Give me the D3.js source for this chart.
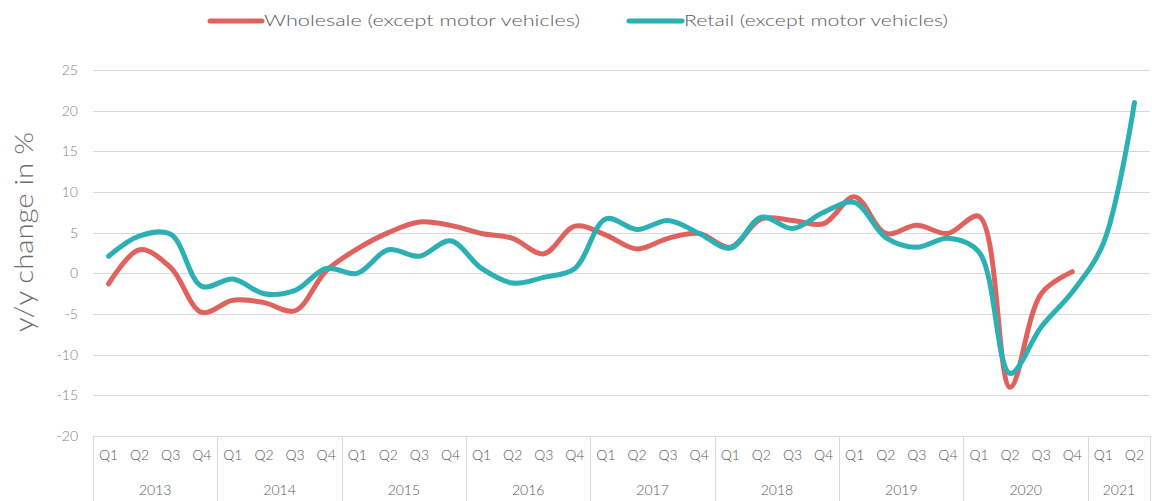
<!DOCTYPE html>
<html>
<head>
<meta charset="utf-8">
<script src="https://cdn.jsdelivr.net/npm/d3@7"></script>
<style>
  html, body { margin: 0; padding: 0; background: #fff; }
  svg { display: block; }
  text { font-family: Lato, "Open Sans", sans-serif; fill: #595959; }
</style>
</head>
<body>
<svg id="chart" width="1152" height="501"></svg>
<script>
// Quarterly y/y change in %, 2013 Q1 – 2021 Q2
const years = ["2013", "2014", "2015", "2016", "2017", "2018", "2019", "2020", "2021"];
const quartersPerYear = [4, 4, 4, 4, 4, 4, 4, 4, 2];
const quarterNames = ["Q1", "Q2", "Q3", "Q4"];

const wholesale = [
  -1.3, 2.9, 0.7, -4.8,
  -3.3, -3.6, -4.6, 0.3,
  3.0, 5.0, 6.3, 5.9,
  4.9, 4.3, 2.4, 5.8,
  4.7, 3.0, 4.3, 4.9,
  3.2, 6.7, 6.5, 6.1,
  9.4, 4.9, 5.9, 4.9,
  7.0, -14.0, -2.5, 0.2
];
const retail = [
  2.1, 4.6, 4.8, -1.6,
  -0.7, -2.5, -2.1, 0.6,
  0.0, 2.9, 2.1, 4.0,
  0.6, -1.2, -0.5, 0.6,
  6.7, 5.4, 6.5, 4.9,
  3.1, 6.9, 5.5, 7.5,
  8.7, 4.4, 3.2, 4.3,
  2.6, -12.3, -6.6, -2.3,
  3.7, 21.0
];
const yTicks = [-20, -15, -10, -5, 0, 5, 10, 15, 20, 25];

const seriesNames = ["Wholesale (except motor vehicles)", "Retail (except motor vehicles)"];
const seriesColors = ["#e0625f", "#2bb0b4"];

// Build the quarter keys (e.g. "2013-Q1")
const quarterKeys = [];
years.forEach((yr, i) => {
  for (let q = 0; q < quartersPerYear[i]; q++) quarterKeys.push(yr + "-" + quarterNames[q]);
});

const svg = d3.select("#chart");
const plotLeft = 93, plotRight = 1150, plotTop = 70, plotBottom = 436;

const x = d3.scaleBand().domain(quarterKeys).range([plotLeft, plotRight]).padding(0);
const y = d3.scaleLinear().domain([-20, 25]).range([plotBottom, plotTop]);
const cx = k => x(k) + x.bandwidth() / 2;

// Horizontal gridlines
svg.append("g").selectAll("line").data(yTicks).join("line")
  .attr("x1", plotLeft).attr("x2", plotRight)
  .attr("y1", d => Math.round(y(d)) + 0.5).attr("y2", d => Math.round(y(d)) + 0.5)
  .attr("stroke", "#d9d9d9").attr("stroke-width", 1);

// Y tick labels
svg.append("g").selectAll("text").data(yTicks).join("text")
  .attr("x", 78).attr("y", d => y(d))
  .attr("dy", "0.35em")
  .attr("text-anchor", "end")
  .attr("font-size", 14)
  .attr("font-weight", 300)
  .style("fill", "#7f7f7f")
  .text(d => d);

// Y axis title
svg.append("text")
  .attr("transform", "translate(33,232) rotate(-90)")
  .attr("text-anchor", "middle")
  .attr("font-size", 25)
  .attr("font-weight", 300)
  .attr("textLength", 200)
  .attr("lengthAdjust", "spacingAndGlyphs")
  .style("fill", "#6b6b6b")
  .text("y/y change in %");

// Two-level category axis: quarter labels, year labels, separators
const axis = svg.append("g");
axis.selectAll("text.q").data(quarterKeys).join("text")
  .attr("class", "q")
  .attr("x", d => cx(d)).attr("y", 455)
  .attr("dy", "0.35em")
  .attr("text-anchor", "middle")
  .attr("font-size", 14)
  .attr("font-weight", 300)
  .style("fill", "#595959")
  .text(d => d.split("-")[1]);

let idx = 0;
const yearSpans = years.map((yr, i) => {
  const first = quarterKeys[idx];
  const last = quarterKeys[idx + quartersPerYear[i] - 1];
  idx += quartersPerYear[i];
  return { yr, x0: x(first), x1: x(last) + x.bandwidth() };
});

axis.selectAll("text.yr").data(yearSpans).join("text")
  .attr("class", "yr")
  .attr("x", d => (d.x0 + d.x1) / 2).attr("y", 490)
  .attr("dy", "0.35em")
  .attr("text-anchor", "middle")
  .attr("font-size", 14)
  .attr("font-weight", 300)
  .style("fill", "#595959")
  .text(d => d.yr);

const seps = [yearSpans[0].x0].concat(yearSpans.map(d => d.x1));
axis.selectAll("line.sep").data(seps).join("line")
  .attr("class", "sep")
  .attr("x1", d => Math.round(d) + 0.5).attr("x2", d => Math.round(d) + 0.5)
  .attr("y1", plotBottom).attr("y2", 501)
  .attr("stroke", "#d9d9d9").attr("stroke-width", 1);

// Series lines
const line = d3.line()
  .x((d, i) => cx(quarterKeys[i]))
  .y(d => y(d))
  .curve(d3.curveCatmullRom.alpha(0.5));

[wholesale, retail].forEach((vals, i) => {
  svg.append("path")
    .datum(vals)
    .attr("d", line)
    .attr("fill", "none")
    .attr("stroke", seriesColors[i])
    .attr("stroke-width", 5)
    .attr("stroke-linecap", "round")
    .attr("stroke-linejoin", "round");
});

// Legend
const legendItems = [
  { x0: 210, x1: 262, tx: 264, len: 316 },
  { x0: 629, x1: 682, tx: 684, len: 264 }
];
const lg = svg.append("g");
legendItems.forEach((it, i) => {
  lg.append("line")
    .attr("x1", it.x0).attr("x2", it.x1)
    .attr("y1", 21).attr("y2", 21)
    .attr("stroke", seriesColors[i]).attr("stroke-width", 5)
    .attr("stroke-linecap", "round");
  lg.append("text")
    .attr("x", it.tx).attr("y", 21)
    .attr("dy", "0.35em")
    .attr("font-size", 15)
    .attr("font-weight", 300)
    .attr("textLength", it.len)
    .attr("lengthAdjust", "spacingAndGlyphs")
    .style("fill", "#595959")
    .text(seriesNames[i]);
});
</script>
</body>
</html>
